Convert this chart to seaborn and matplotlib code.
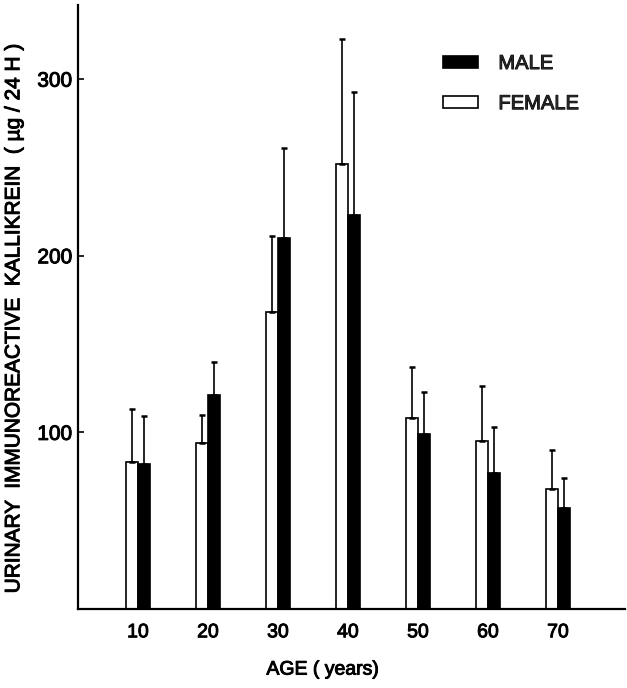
import matplotlib
matplotlib.use("Agg")
import matplotlib.pyplot as plt
import matplotlib.patheffects as pe
import seaborn as sns
import pandas as pd
import numpy as np

# ---- data ----
ages = ["10", "20", "30", "40", "50", "60", "70"]
female_mean = [83, 94, 168, 252, 108, 95, 68]
female_sd = [30, 16, 43, 71, 29, 31, 22]
male_mean = [82, 121, 210, 223, 99, 77, 57]
male_sd = [27, 19, 51, 70, 24, 26, 17]
sexes = ["FEMALE", "MALE"]
legend_order = ["MALE", "FEMALE"]
yticks = [100, 200, 300]

df = pd.DataFrame({
    "age": ages * 2,
    "sex": ["FEMALE"] * len(ages) + ["MALE"] * len(ages),
    "value": female_mean + male_mean,
})
sds = {"FEMALE": female_sd, "MALE": male_sd}

sns.set_theme(style="white")
plt.rcParams["font.family"] = ["Liberation Sans", "DejaVu Sans"]

fig = plt.figure(figsize=(6.27, 6.88), dpi=100)
W, H = 627, 688
ax = fig.add_axes([78 / W, (H - 609) / H, 547 / W, 604 / H])

sns.barplot(data=df, x="age", y="value", hue="sex", hue_order=sexes,
            palette={"FEMALE": "white", "MALE": "black"},
            edgecolor="black", linewidth=1.2, width=0.334, gap=0,
            errorbar=None, ax=ax)

# one-sided (upward) error bars
for cont, sex in zip(ax.containers, sexes):
    xs = [p.get_x() + p.get_width() / 2 for p in cont.patches]
    hs = [p.get_height() for p in cont.patches]
    ax.errorbar(xs, hs, yerr=[np.zeros(len(hs)), sds[sex]], fmt="none",
                ecolor="black", elinewidth=1.2, capsize=2, capthick=1.8,
                zorder=1)

ax.set_xlim(-0.857, 6.957)
ax.set_ylim(0, 342)
ax.set_yticks(yticks)
ax.set_yticklabels([str(t) for t in yticks])

for s in ["top", "right"]:
    ax.spines[s].set_visible(False)
for s in ["left", "bottom"]:
    ax.spines[s].set_linewidth(1.6)
    ax.spines[s].set_color("black")

ax.tick_params(axis="y", direction="in", length=4, width=1.2, pad=4,
               labelsize=15, colors="black", left=True)
ax.tick_params(axis="x", length=0, pad=11, labelsize=14, colors="black")

ax.set_xlabel("AGE ( years)", fontsize=14, color="black")
ax.xaxis.set_label_coords(0.448, -0.087)
ax.set_ylabel("URINARY  IMMUNOREACTIVE  KALLIKREIN  ( µg / 24 H )",
              fontsize=15, color="black")
ax.yaxis.set_label_coords(-0.10, 0.482)

handles, labels = ax.get_legend_handles_labels()
hmap = dict(zip(labels, handles))
if ax.get_legend() is not None:
    ax.get_legend().remove()
leg = fig.legend([hmap[k] for k in legend_order], legend_order,
                 loc="upper left", bbox_to_anchor=(443 / W, 1 - 54 / H),
                 frameon=False, fontsize=14.5, handlelength=1.75,
                 handleheight=0.55, handletextpad=1.0, labelspacing=1.05,
                 borderpad=0, borderaxespad=0)

# slightly heavier lettering, like the printed original
heavy = [pe.withStroke(linewidth=0.7, foreground="black")]
texts = (ax.get_xticklabels() + ax.get_yticklabels()
         + [ax.xaxis.label, ax.yaxis.label] + leg.get_texts())
for t in texts:
    t.set_path_effects(heavy)

fig.savefig("out.png", dpi=100, facecolor="white")
